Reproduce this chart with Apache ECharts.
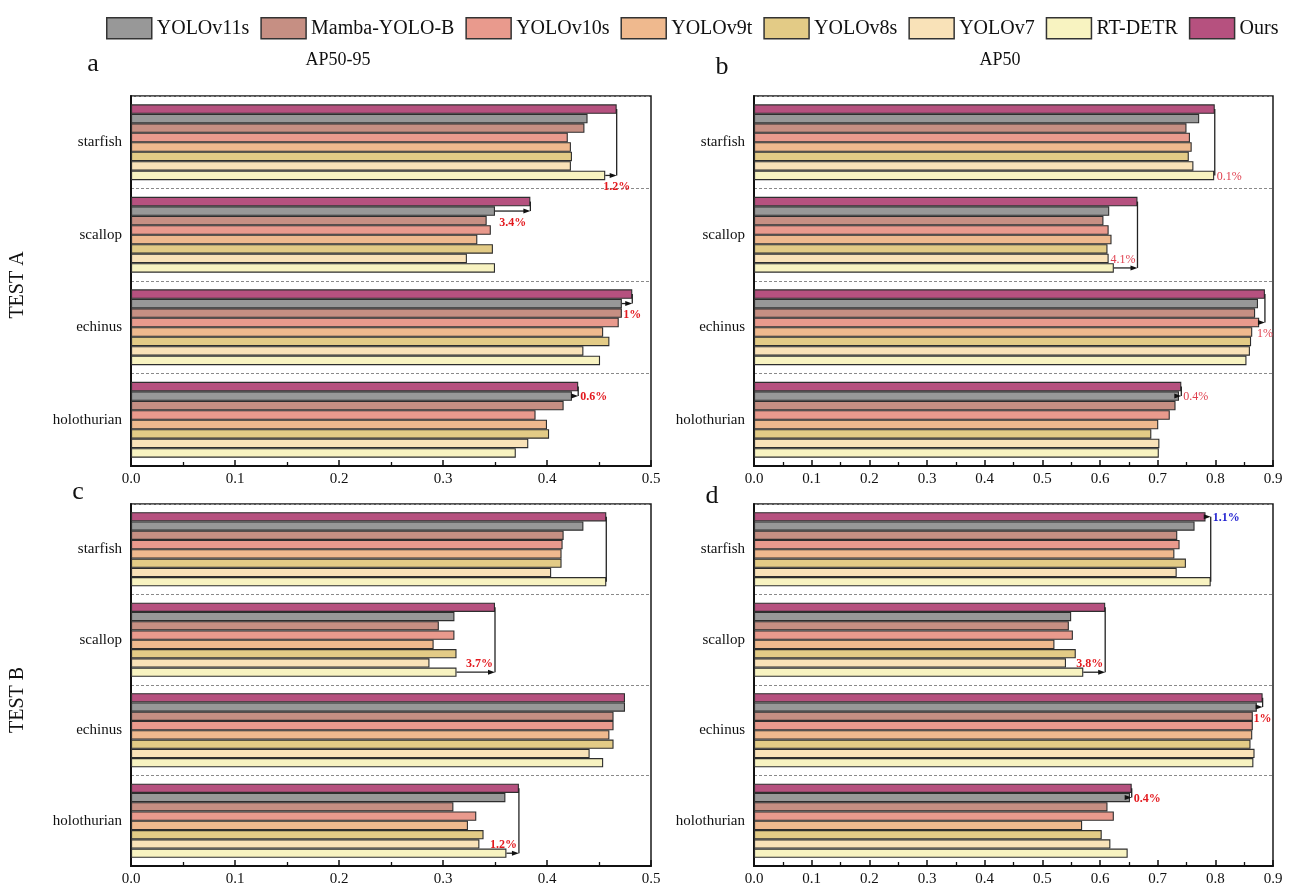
<!DOCTYPE html>
<html><head><meta charset="utf-8">
<script src="https://cdn.jsdelivr.net/npm/echarts@6/dist/echarts.min.js"></script>
<style>html,body{margin:0;padding:0;background:#fff}#chart{width:1295px;height:887px}</style>
</head><body><div id="chart"></div>
<script>
// ---- data ----
const categories = ['starfish', 'scallop', 'echinus', 'holothurian'];
// display order inside each group, top to bottom
const models = ['Ours', 'YOLOv11s', 'Mamba-YOLO-B', 'YOLOv10s', 'YOLOv9t', 'YOLOv8s', 'YOLOv7', 'RT-DETR'];
const legendOrder = ['YOLOv11s', 'Mamba-YOLO-B', 'YOLOv10s', 'YOLOv9t', 'YOLOv8s', 'YOLOv7', 'RT-DETR', 'Ours'];
const colors = {
  'YOLOv11s': '#989898', 'Mamba-YOLO-B': '#c68f83', 'YOLOv10s': '#e99a8d', 'YOLOv9t': '#efb98e',
  'YOLOv8s': '#e3cb86', 'YOLOv7': '#f9e2b8', 'RT-DETR': '#f8f3c1', 'Ours': '#b6517f'
};
// rows follow `models`; columns follow `categories`
const testA_AP5095 = [
  [0.467, 0.384, 0.482, 0.430],
  [0.439, 0.350, 0.472, 0.424],
  [0.436, 0.342, 0.472, 0.416],
  [0.420, 0.346, 0.469, 0.389],
  [0.423, 0.333, 0.454, 0.400],
  [0.424, 0.348, 0.460, 0.402],
  [0.423, 0.323, 0.435, 0.382],
  [0.456, 0.350, 0.451, 0.370]
];
const testA_AP50 = [
  [0.799, 0.665, 0.886, 0.741],
  [0.772, 0.616, 0.874, 0.737],
  [0.750, 0.606, 0.869, 0.731],
  [0.756, 0.615, 0.876, 0.721],
  [0.759, 0.620, 0.864, 0.701],
  [0.754, 0.613, 0.862, 0.689],
  [0.762, 0.615, 0.860, 0.703],
  [0.798, 0.624, 0.854, 0.702]
];
const testB_AP5095 = [
  [0.457, 0.350, 0.475, 0.373],
  [0.435, 0.311, 0.475, 0.360],
  [0.416, 0.296, 0.464, 0.310],
  [0.415, 0.311, 0.464, 0.332],
  [0.414, 0.291, 0.460, 0.324],
  [0.414, 0.313, 0.464, 0.339],
  [0.404, 0.287, 0.441, 0.335],
  [0.457, 0.313, 0.454, 0.361]
];
const testB_AP50 = [
  [0.783, 0.609, 0.882, 0.655],
  [0.764, 0.550, 0.872, 0.652],
  [0.734, 0.546, 0.865, 0.613],
  [0.738, 0.553, 0.865, 0.624],
  [0.729, 0.521, 0.864, 0.569],
  [0.749, 0.558, 0.861, 0.603],
  [0.733, 0.541, 0.868, 0.618],
  [0.792, 0.571, 0.866, 0.648]
];
const axisMaxAP5095 = 0.5;
const axisMaxAP50 = 0.9;
// annotations: [category, compared model, label, label placement, label colour]
const annotA = [['starfish', 'RT-DETR', '1.2%', 'below', '#e3191e'], ['scallop', 'YOLOv11s', '3.4%', 'belowMid', '#e3191e'],
                ['echinus', 'YOLOv11s', '1%', 'below', '#e3191e'], ['holothurian', 'YOLOv11s', '0.6%', 'right', '#e3191e']];
const annotB = [['starfish', 'RT-DETR', '0.1%', 'right', '#e0404f'], ['scallop', 'RT-DETR', '4.1%', 'above', '#e0404f'],
                ['echinus', 'YOLOv10s', '1%', 'below', '#e0404f'], ['holothurian', 'YOLOv11s', '0.4%', 'right', '#e0404f']];
const annotC = [['starfish', 'RT-DETR', '', 'right', '#e3191e'], ['scallop', 'RT-DETR', '3.7%', 'above', '#e3191e'],
                ['holothurian', 'RT-DETR', '1.2%', 'above', '#e3191e']];
const annotD = [['starfish', 'RT-DETR', '1.1%', 'right', '#1f1fd0'], ['scallop', 'RT-DETR', '3.8%', 'above', '#e3191e'],
                ['echinus', 'YOLOv11s', '1%', 'below', '#e3191e'], ['holothurian', 'YOLOv11s', '0.4%', 'right', '#e3191e']];

// ---- layout ----
const SERIF = '"Liberation Serif", "Times New Roman", serif';
const CAT_GAP = 0.18;
const panels = [
  { data: testA_AP5095, max: axisMaxAP5095, annot: annotA, grid: { left: 131, top: 96, width: 520, height: 370 }, bold: true },
  { data: testA_AP50, max: axisMaxAP50, annot: annotB, grid: { left: 754, top: 96, width: 519, height: 370 }, bold: false },
  { data: testB_AP5095, max: axisMaxAP5095, annot: annotC, grid: { left: 131, top: 504, width: 520, height: 368 }, bold: true },
  { data: testB_AP50, max: axisMaxAP50, annot: annotD, grid: { left: 754, top: 504, width: 519, height: 368 }, bold: true }
];

const grids = [], xAxes = [], yAxes = [], series = [];
panels.forEach((p, pi) => {
  grids.push(Object.assign({ show: true, borderColor: '#1a1a1a', borderWidth: 1.5, backgroundColor: 'transparent' }, p.grid));
  xAxes.push({
    type: 'value', gridIndex: pi, min: 0, max: p.max, interval: 0.1,
    axisLine: { show: true, onZero: false, lineStyle: { color: '#111', width: 2 } },
    axisTick: { show: true, inside: true, length: 6, lineStyle: { color: '#111', width: 1.5 } },
    minorTick: { show: true, splitNumber: 2, length: 4, lineStyle: { color: '#111', width: 1.3 } },
    axisLabel: { formatter: v => v.toFixed(1), fontFamily: SERIF, fontSize: 15, color: '#111', margin: 6 },
    splitLine: { show: false }
  });
  yAxes.push({
    type: 'category', gridIndex: pi, data: categories, inverse: true,
    axisLine: { show: true, lineStyle: { color: '#111', width: 2 } },
    axisTick: { show: false },
    axisLabel: { fontFamily: SERIF, fontSize: 15, color: '#111', margin: 9 },
    splitLine: { show: true, lineStyle: { type: [3, 2], color: '#8a8a8a', width: 1 } }
  });
  models.forEach((m, mi) => {
    series.push({
      type: 'bar', name: m, xAxisIndex: pi, yAxisIndex: pi, data: p.data[mi],
      barGap: '0%', barCategoryGap: (CAT_GAP * 100) + '%',
      itemStyle: { color: colors[m], borderColor: '#2e2e2e', borderWidth: 1.1 },
      emphasis: { disabled: true }, silent: true
    });
  });
  const annotData = p.annot.map(a => {
    const ci = categories.indexOf(a[0]);
    return [ci, p.data[0][ci], p.data[models.indexOf(a[1])][ci]];
  });
  const annots = p.annot;
  series.push({
    type: 'custom', name: 'annot' + pi, xAxisIndex: pi, yAxisIndex: pi, z: 5, silent: true,
    encode: { x: [1, 2], y: 0 },
    data: annotData,
    renderItem: function (params, api) {
      const a = annots[params.dataIndex];
      const cat = api.value(0), vO = api.value(1), vC = api.value(2);
      const band = api.size([0, 1])[1];
      const yc = api.coord([0, cat])[1];
      const barH = band * (1 - CAT_GAP) / models.length;
      const rowY = r => yc - band * (1 - CAT_GAP) / 2 + (r + 0.5) * barH;
      const rC = models.indexOf(a[1]);
      const xO = api.coord([vO, cat])[0], xC = api.coord([vC, cat])[0];
      let xMax, xMin, yMaxRow, yMinRow;
      if (vO >= vC) { xMax = xO; yMaxRow = rowY(0); xMin = xC; yMinRow = rowY(rC); }
      else { xMax = xC; yMaxRow = rowY(rC); xMin = xO; yMinRow = rowY(0); }
      const children = [];
      children.push({ type: 'line', shape: { x1: xMax, y1: yMaxRow, x2: xMax, y2: yMinRow }, style: { stroke: '#222', lineWidth: 1.3 } });
      if (xMax - xMin > 1) {
        children.push({ type: 'line', shape: { x1: xMin, y1: yMinRow, x2: xMax - 4, y2: yMinRow }, style: { stroke: '#222', lineWidth: 1.3 } });
        children.push({ type: 'polygon', shape: { points: [[xMax, yMinRow], [xMax - 7, yMinRow - 2.5], [xMax - 7, yMinRow + 2.5]] }, style: { fill: '#111' } });
      }
      if (a[2]) {
        let tx, ty, al, va;
        if (a[3] === 'below') { tx = xMax; ty = yMinRow + barH * 0.5 + 1; al = 'center'; va = 'top'; }
        else if (a[3] === 'belowMid') { tx = (xMin + xMax) / 2; ty = yMinRow + barH * 0.5 + 1; al = 'center'; va = 'top'; }
        else if (a[3] === 'above') { tx = xMax - 2; ty = yMinRow - 2; al = 'right'; va = 'bottom'; }
        else { tx = xMax + 2; ty = yMinRow + 1; al = 'left'; va = 'middle'; }
        children.push({
          type: 'text',
          style: { text: a[2], x: tx, y: ty, align: al, verticalAlign: va, fill: a[4],
                   font: (p.bold ? 'bold ' : '') + '12px ' + SERIF }
        });
      }
      return { type: 'group', children: children };
    }
  });
});

const txt = (t, x, y, size, rot) => ({
  type: 'text', x: x, y: y, rotation: rot || 0,
  style: { text: t, font: size + 'px ' + SERIF, fill: '#111', align: 'center', verticalAlign: 'middle' }
});

const option = {
  animation: false,
  backgroundColor: '#fff',
  legend: {
    data: legendOrder, top: 12, left: 101, itemWidth: 45, itemHeight: 21, itemGap: 11,
    icon: 'rect',
    itemStyle: { borderColor: '#333', borderWidth: 1.5 },
    textStyle: { fontFamily: SERIF, fontSize: 20, color: '#111' },
    selectedMode: false
  },
  grid: grids, xAxis: xAxes, yAxis: yAxes, series: series,
  graphic: [
    txt('a', 93, 64, 26), txt('AP50-95', 338, 60, 18),
    txt('b', 722, 67, 26), txt('AP50', 1000, 60, 18),
    txt('c', 78, 492, 26), txt('d', 712, 496, 26),
    txt('TEST A', 18, 285, 20, Math.PI / 2), txt('TEST B', 18, 700, 20, Math.PI / 2)
  ]
};
echarts.init(document.getElementById('chart')).setOption(option);
</script></body></html>
